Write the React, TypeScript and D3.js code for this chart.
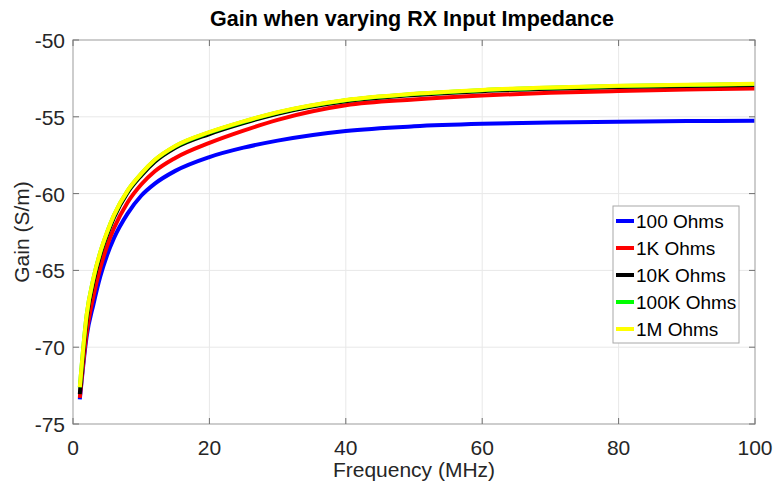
import React, { useEffect, useRef } from 'react';
import * as d3 from 'd3';

// frequency samples (MHz)
const freqs = [1, 2, 3, 4, 5, 6, 8, 10, 12, 15, 20, 25, 30, 40, 50, 60, 70, 80, 90, 100];

// gain, one array per RX input impedance
const gain100 = [-73.4, -69.3, -67.2, -65.4, -64.0, -62.9, -61.3, -60.14, -59.35, -58.52, -57.62, -57.01, -56.55, -55.92, -55.62, -55.46, -55.37, -55.32, -55.28, -55.25];
const gain1K = [-73.3, -69.05, -66.65, -64.83, -63.4, -62.26, -60.58, -59.41, -58.55, -57.68, -56.7, -55.9, -55.2, -54.25, -53.87, -53.61, -53.43, -53.32, -53.23, -53.15];
const gain10K = [-73.05, -68.2, -65.75, -64.0, -62.68, -61.57, -59.94, -58.83, -57.93, -57.02, -56.12, -55.41, -54.8, -53.99, -53.58, -53.33, -53.17, -53.06, -52.99, -52.93];
const gain100K = [-72.62, -67.92, -65.52, -63.82, -62.52, -61.42, -59.82, -58.72, -57.82, -56.92, -56.02, -55.32, -54.72, -53.92, -53.52, -53.27, -53.11, -53.0, -52.93, -52.87];
const gain1M = [-72.6, -67.9, -65.5, -63.8, -62.5, -61.4, -59.8, -58.7, -57.8, -56.9, -56.0, -55.3, -54.7, -53.9, -53.5, -53.25, -53.09, -52.98, -52.91, -52.85];

const seriesNames = ['100 Ohms', '1K Ohms', '10K Ohms', '100K Ohms', '1M Ohms'];
const seriesColors = ['#0000ff', '#ff0000', '#000000', '#00ff00', '#ffff00'];
const seriesValues = [gain100, gain1K, gain10K, gain100K, gain1M];

const xTicks = [0, 20, 40, 60, 80, 100];
const yTicks = [-75, -70, -65, -60, -55, -50];

export default function App() {
    const svgRef = useRef<SVGSVGElement>(null);

    useEffect(() => {
        if (!svgRef.current) return;
        const width = 776;
        const height = 491;
        const m = { left: 73, right: 21, top: 40, bottom: 67 };
        const font = 'Liberation Sans, Arial, sans-serif';

        const svg = d3.select(svgRef.current);
        svg.selectAll('*').remove();
        svg.attr('width', width).attr('height', height).style('font-family', font);

        const x = d3.scaleLinear().domain([0, 100]).range([m.left, width - m.right]);
        const y = d3.scaleLinear().domain([-75, -50]).range([height - m.bottom, m.top]);

        svg.append('rect').attr('width', width).attr('height', height).attr('fill', 'white');

        // grid
        const grid = svg.append('g').attr('stroke', '#e8e8e8').attr('stroke-width', 1);
        xTicks.slice(1, -1).forEach(t => {
            grid.append('line').attr('x1', x(t)).attr('x2', x(t)).attr('y1', y(-75)).attr('y2', y(-50));
        });
        yTicks.slice(1, -1).forEach(t => {
            grid.append('line').attr('x1', x(0)).attr('x2', x(100)).attr('y1', y(t)).attr('y2', y(t));
        });

        // curves
        const line = d3.line<number>()
            .x((_, i) => x(freqs[i]))
            .y(d => y(d))
            .curve(d3.curveMonotoneX);

        seriesValues.forEach((vals, i) => {
            svg.append('path')
                .datum(vals)
                .attr('fill', 'none')
                .attr('stroke', seriesColors[i])
                .attr('stroke-width', 4)
                .attr('d', line);
        });

        // box
        svg.append('rect')
            .attr('x', x(0)).attr('y', y(-50))
            .attr('width', x(100) - x(0)).attr('height', y(-75) - y(-50))
            .attr('fill', 'none').attr('stroke', '#bdbdbd').attr('stroke-width', 1.5);

        // tick marks (inward, both sides)
        const ticks = svg.append('g').attr('stroke', '#707070').attr('stroke-width', 1);
        xTicks.forEach(t => {
            ticks.append('line').attr('x1', x(t)).attr('x2', x(t)).attr('y1', y(-75)).attr('y2', y(-75) - 6);
            ticks.append('line').attr('x1', x(t)).attr('x2', x(t)).attr('y1', y(-50)).attr('y2', y(-50) + 6);
        });
        yTicks.forEach(t => {
            ticks.append('line').attr('x1', x(0)).attr('x2', x(0) + 6).attr('y1', y(t)).attr('y2', y(t));
            ticks.append('line').attr('x1', x(100)).attr('x2', x(100) - 6).attr('y1', y(t)).attr('y2', y(t));
        });

        // tick labels
        svg.append('g').selectAll('text').data(xTicks).join('text')
            .attr('x', d => x(d)).attr('y', y(-75) + 31)
            .attr('text-anchor', 'middle')
            .attr('fill', '#262626').style('font-size', '21px')
            .text(d => d);
        svg.append('g').selectAll('text').data(yTicks).join('text')
            .attr('x', x(0) - 8).attr('y', d => y(d) + 8)
            .attr('text-anchor', 'end')
            .attr('fill', '#262626').style('font-size', '21px')
            .text(d => d);

        // labels
        svg.append('text')
            .attr('x', (x(0) + x(100)) / 2 - 2).attr('y', 26)
            .attr('text-anchor', 'middle').attr('fill', '#000')
            .style('font-size', '21.5px').style('font-weight', 'bold')
            .text('Gain when varying RX Input Impedance');
        svg.append('text')
            .attr('x', (x(0) + x(100)) / 2).attr('y', 477)
            .attr('text-anchor', 'middle').attr('fill', '#262626')
            .style('font-size', '21px')
            .text('Frequency (MHz)');
        svg.append('text')
            .attr('transform', `translate(29,${(y(-75) + y(-50)) / 2}) rotate(-90)`)
            .attr('text-anchor', 'middle').attr('fill', '#262626')
            .style('font-size', '21px')
            .text('Gain (S/m)');

        // legend
        const lg = svg.append('g').attr('transform', 'translate(613,206)');
        lg.append('rect').attr('width', 126).attr('height', 137)
            .attr('fill', 'white').attr('stroke', '#a8a8a8').attr('stroke-width', 1);
        seriesNames.forEach((name, i) => {
            const cy = 15 + i * 27;
            lg.append('line').attr('x1', 3).attr('x2', 21).attr('y1', cy).attr('y2', cy)
                .attr('stroke', seriesColors[i]).attr('stroke-width', 4);
            lg.append('text').attr('x', 23).attr('y', cy + 7)
                .attr('fill', '#000').style('font-size', '19px')
                .text(name);
        });
    }, []);

    return (
        <div style={{ position: 'absolute', left: 0, top: 0 }}>
            <svg ref={svgRef}></svg>
        </div>
    );
}
